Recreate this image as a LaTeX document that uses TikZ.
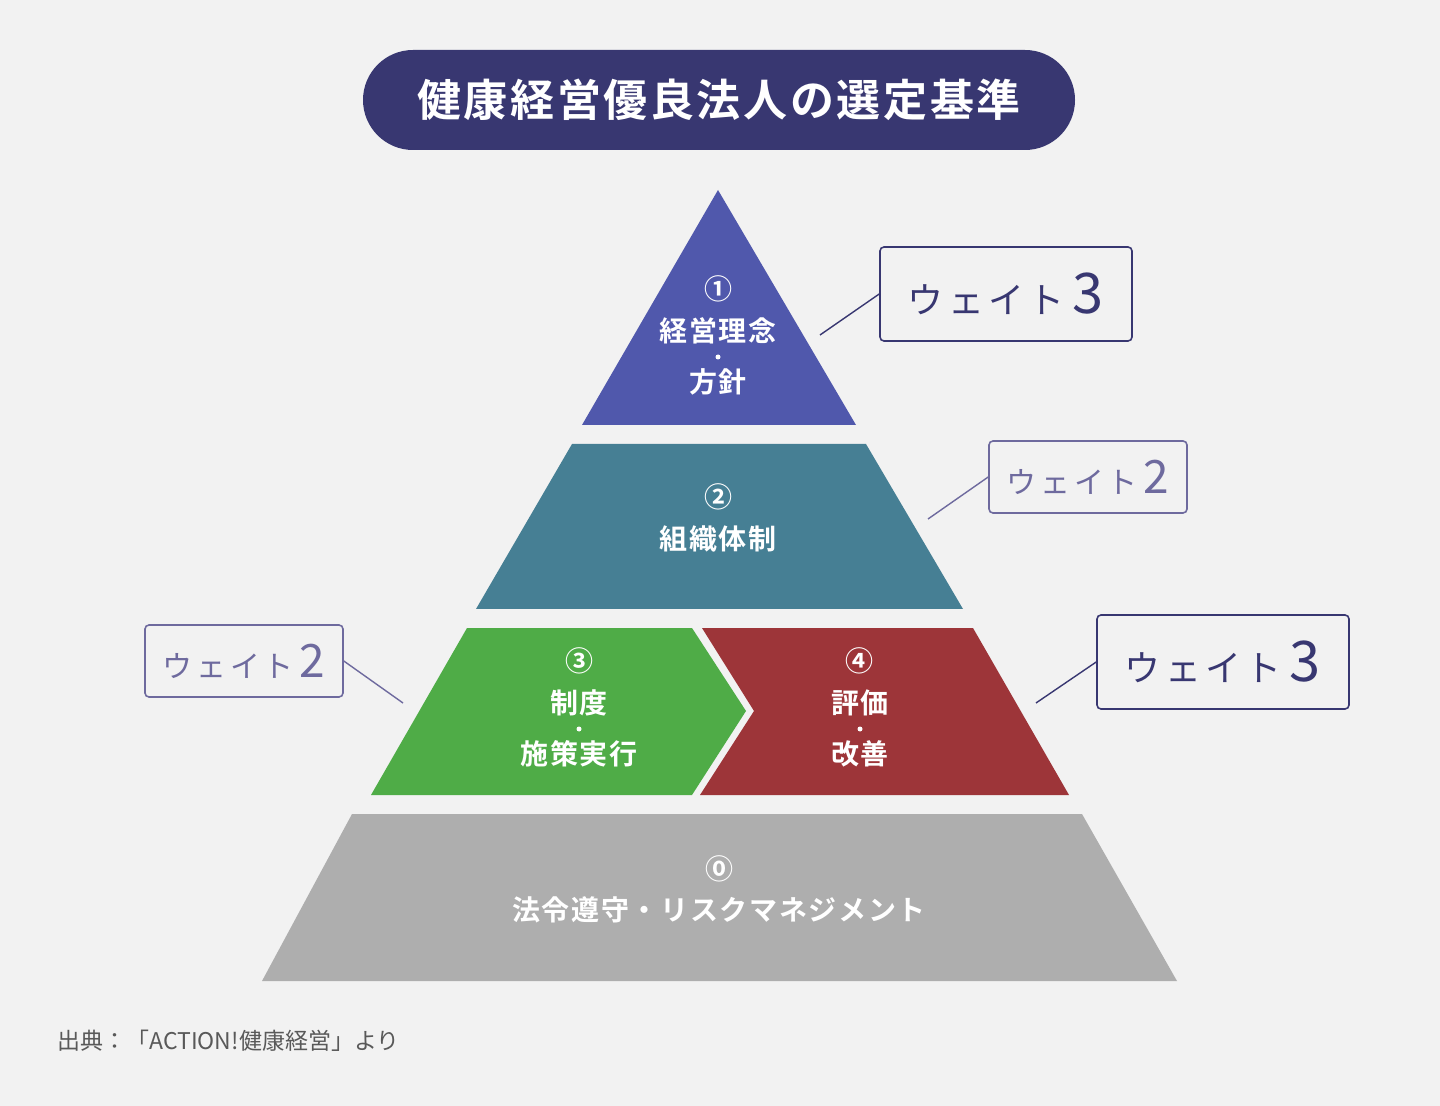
\documentclass[tikz,border=0pt]{standalone}
\usepackage{fontspec}
\setmainfont{Noto Sans CJK JP}
\newfontfamily\jpbold[LetterSpace=6]{Noto Sans CJK JP Bold}
\newfontfamily\jpspaced[LetterSpace=12]{Noto Sans CJK JP}
\usetikzlibrary{positioning}
\definecolor{navy}{RGB}{56,55,113}
\definecolor{softnavy}{RGB}{110,106,158}
\definecolor{tierone}{RGB}{80,88,172}
\definecolor{tiertwo}{RGB}{70,127,148}
\definecolor{tiergreen}{RGB}{79,172,71}
\definecolor{tierred}{RGB}{157,53,57}
\definecolor{tierbase}{RGB}{174,174,174}
\definecolor{bgcol}{RGB}{242,242,242}
\tikzset{
  tiertext/.style={text=white, font=\jpbold\fontsize{14}{16}\selectfont, inner sep=0pt},
  tierdot/.style={fill=white, circle, inner sep=0pt, minimum size=2.5pt},
  weightbox/.style={draw=#1, line width=0.8pt, rounded corners=2pt, fill=bgcol, text=#1, inner sep=0pt},
  leader/.style={draw=#1, line width=0.7pt}
}
\begin{document}
\begin{tikzpicture}[x=0.5pt,y=-0.5pt]
  \fill[bgcol] (0,0) rectangle (1440,1106);
  \useasboundingbox (0,0) rectangle (1440,1106);
  % title
  \node[fill=navy, rounded corners=25pt, minimum width=356pt, minimum height=50pt, text=white,
    font=\jpbold\fontsize{22}{26}\selectfont] (title) at (719,100) {健康経営優良法人の選定基準};
  % pyramid
  \fill[tierone] (718,190) -- (856,425) -- (582,425) -- cycle;
  \fill[tiertwo] (572,444) -- (866,444) -- (963,609) -- (476,609) -- cycle;
  \fill[tiergreen] (467,628) -- (692,628) -- (746,711) -- (692,795) -- (371,795) -- cycle;
  \fill[tierred] (702,628) -- (973,628) -- (1069,795) -- (700,795) -- (754,711) -- cycle;
  \fill[tierbase] (352,814) -- (1082,814) -- (1177,981) -- (262,981) -- cycle;
  \node[tiertext] (philonum) at (718,289) {①};
  \node[tiertext] (philo) at (718,331) {経営理念};
  \node[tierdot] (philodot) at (718,357) {};
  \node[tiertext] (philotwo) at (718,382) {方針};
  \node[tiertext] (orgnum) at (718,497) {②};
  \node[tiertext] (org) at (718,539) {組織体制};
  \node[tiertext] (policynum) at (579,661) {③};
  \node[tiertext] (policy) at (579,703) {制度};
  \node[tierdot] (policydot) at (579,729) {};
  \node[tiertext] (policytwo) at (579,754) {施策実行};
  \node[tiertext] (reviewnum) at (859,661) {④};
  \node[tiertext] (review) at (860,703) {評価};
  \node[tierdot] (reviewdot) at (860,729) {};
  \node[tiertext] (reviewtwo) at (860,754) {改善};
  \node[tiertext] (complynum) at (719,869) {⓪};
  \node[tiertext] (comply) at (719,910) {法令遵守・リスクマネジメント};
  % weights
  \node[weightbox=navy, minimum width=126pt, minimum height=47pt] (wone) at (1006,294)
    {\jpspaced\fontsize{18}{20}\selectfont ウェイト\hspace{4pt}\fontsize{28}{28}\selectfont 3};
  \node[weightbox=softnavy, minimum width=99pt, minimum height=36pt] (wtwo) at (1088,477)
    {\jpspaced\fontsize{15}{18}\selectfont ウェイト\hspace{3pt}\fontsize{23}{24}\selectfont 2};
  \node[weightbox=softnavy, minimum width=99pt, minimum height=36pt] (wthree) at (244,661)
    {\jpspaced\fontsize{15}{18}\selectfont ウェイト\hspace{3pt}\fontsize{23}{24}\selectfont 2};
  \node[weightbox=navy, minimum width=126pt, minimum height=47pt] (wfour) at (1223,662)
    {\jpspaced\fontsize{18}{20}\selectfont ウェイト\hspace{4pt}\fontsize{28}{28}\selectfont 3};
  \coordinate (pone) at (820,335);
  \coordinate (ptwo) at (928,519);
  \coordinate (pthree) at (403,703);
  \coordinate (pfour) at (1036,703);
  \draw[leader=navy] (pone) -- (wone.west);
  \draw[leader=softnavy] (ptwo) -- (wtwo.west);
  \draw[leader=softnavy] (wthree.east) -- (pthree);
  \draw[leader=navy] (pfour) -- (wfour.west);
  % source
  \node[anchor=west, text=black!65, font=\fontsize{11.5}{13}\selectfont, inner sep=0pt] (source) at (57,1041)
    {出典：「ACTION!健康経営」より};
\end{tikzpicture}
\end{document}
